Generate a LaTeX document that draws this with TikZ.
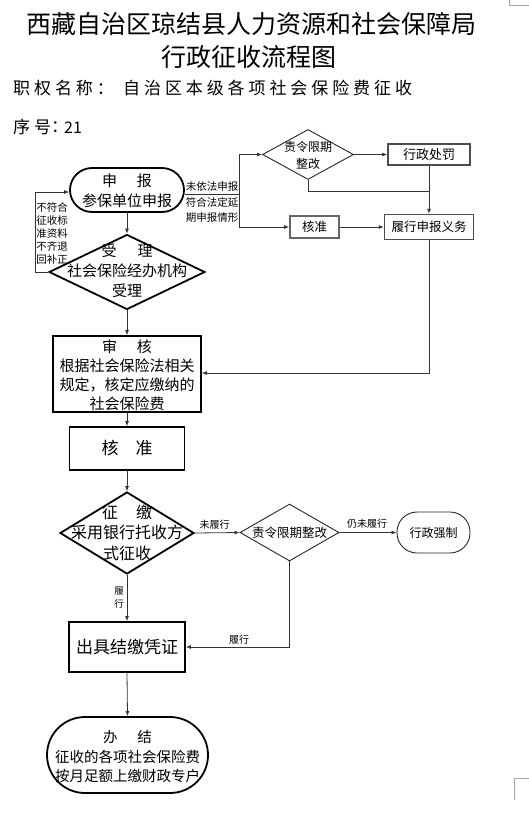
\documentclass[tikz,border=0pt]{standalone}
\usepackage{fontspec}
\setmainfont{Noto Sans CJK SC}
\newfontfamily\cjkwide[LetterSpace=23]{Noto Sans CJK SC}
\usetikzlibrary{shapes.geometric,arrows.meta}
\tikzset{
  thickbox/.style={draw=black, line width=1.8pt, inner sep=0pt},
  thinbox/.style={draw=black!85, line width=0.9pt, inner sep=0pt},
  greybox/.style={draw=black!70, line width=1.5pt, inner sep=0pt},
  txt/.style={inner sep=0pt, align=center},
  conn/.style={draw=black!80, line width=0.8pt},
  arr/.style={conn, -{Latex[length=5pt,width=4pt]}},
  lbl/.style={inner sep=0pt, align=center, font=\fontsize{10.5}{15.5}\selectfont},
  corner/.style={draw=black!35, line width=0.6pt},
}
\begin{document}
\begin{tikzpicture}[x=1pt,y=-1pt]
\useasboundingbox (0,0) rectangle (529,835);

% titles
\node[txt, font=\fontsize{25}{30}\selectfont] (title1) at (251,23.5) {西藏自治区琼结县人力资源和社会保障局};
\node[txt, font=\fontsize{25}{30}\selectfont] (title2) at (249,57) {行政征收流程图};
\node[txt, anchor=west, font=\fontsize{17}{20}\cjkwide] (zq1) at (13,88) {职权名称：};
\node[txt, anchor=west, font=\fontsize{17}{20}\cjkwide] (zq2) at (123,88) {自治区本级各项社会保险费征收};
\node[txt, anchor=west, font=\fontsize{17}{20}\cjkwide] (xh) at (13,127.5) {序号};
\node[txt, anchor=west, font=\fontsize{17}{20}\selectfont] (xhc) at (51,127.5) {：};
\node[txt, anchor=west, font=\fontsize{16}{20}\selectfont] (xhn) at (64,127.5) {21};

% main column
\node[thickbox, rounded corners=22pt, minimum width=114pt, minimum height=44pt] (shenbao) at (127,190) {};
\node[txt, font=\fontsize{15}{20}\selectfont] (shenbaot) at (127,191) {申\hspace{20pt}报\\参保单位申报};

\node[thickbox, diamond, minimum width=156pt, minimum height=75pt] (shouli) at (127,272) {};
\node[txt, font=\fontsize{15}{20}\selectfont] (shoulit) at (127,271) {受\hspace{21pt}理\\社会保险经办机构\\受理};

\node[thickbox, minimum width=148pt, minimum height=76pt] (shenhe) at (127,374) {};
\node[txt, font=\fontsize{15}{19}\selectfont] (shenhet) at (127,375.5) {审\hspace{20pt}核\\根据社会保险法相关\\规定，核定应缴纳的\\社会保险费};

\node[thickbox, minimum width=115pt, minimum height=43pt] (hezhun2) at (127,448.5) {};
\node[txt, font=\fontsize{17}{20}\selectfont] (hezhun2t) at (127,448.5) {核\hspace{17pt}准};

\node[thickbox, diamond, minimum width=134pt, minimum height=82pt] (zhengjiao) at (127,533) {};
\node[txt, font=\fontsize{16}{20.5}\selectfont] (zhengjiaot) at (127,532.5) {征\hspace{18pt}缴\\采用银行托收方\\式征收};

\node[thickbox, minimum width=116pt, minimum height=50pt] (chuju) at (127,647) {};
\node[txt, font=\fontsize{17}{20}\selectfont] (chujut) at (127,647) {出具结缴凭证};

\node[thickbox, rounded corners=38pt, minimum width=161pt, minimum height=76pt] (banjie) at (127.5,755) {};
\node[txt, font=\fontsize{14.5}{19.5}\selectfont] (banjiet) at (127.5,757) {办\hspace{20pt}结\\征收的各项社会保险费\\按月足额上缴财政专户};

% right upper branch
\node[thinbox, diamond, minimum width=91pt, minimum height=50pt] (zeling1) at (308,154.5) {};
\node[txt, font=\fontsize{12}{17}\selectfont] (zeling1t) at (308,155) {责令限期\\整改};
\node[greybox, minimum width=82pt, minimum height=21pt] (chufa) at (429,154.5) {};
\node[txt, font=\fontsize{13}{15}\selectfont] (chufat) at (429,154.5) {行政处罚};
\node[greybox, draw=black!60, line width=1.8pt, minimum width=49pt, minimum height=22pt] (hezhun1) at (314.5,227) {};
\node[txt, font=\fontsize{12.5}{15}\selectfont] (hezhun1t) at (314.5,227) {核准};
\node[greybox, minimum width=89pt, minimum height=25pt] (lvxing) at (429,227) {};
\node[txt, font=\fontsize{12.5}{15}\selectfont] (lvxingt) at (429,227) {履行申报义务};

% right lower branch
\node[thinbox, diamond, minimum width=99pt, minimum height=57pt] (zeling2) at (289.5,532.5) {};
\node[txt, font=\fontsize{12.5}{15}\selectfont] (zeling2t) at (289.5,533) {责令限期整改};
\node[thinbox, rounded corners=20pt, minimum width=73pt, minimum height=41pt] (qiangzhi) at (433.5,532.5) {};
\node[txt, font=\fontsize{12}{15}\selectfont] (qiangzhit) at (433.5,532.5) {行政强制};

% coordinates
\coordinate (lp1) at (35,272);
\coordinate (lp2) at (35,192);
\coordinate (rb) at (239,194);
\coordinate (rt) at (239,154.5);
\coordinate (rbot) at (239,227);
\coordinate (zb) at (308,191);
\coordinate (back) at (429,373);
\coordinate (zb2) at (289.5,647);

% connectors
\draw[arr] (shenbao.south) -- (shouli.north);
\draw[arr] (shouli.west) -- (lp1) -- (lp2) -- (lp2 -| shenbao.west);
\draw[conn] (shenbao.east |- rb) -- (rb);
\draw[conn] (rt) -- (rbot);
\draw[arr] (rt) -- (zeling1.west);
\draw[arr] (rbot) -- (hezhun1.west);
\draw[arr] (zeling1.east) -- (chufa.west);
\draw[arr] (chufa.south) -- (lvxing.north);
\draw[conn] (zeling1.south) -- (zb) -- (zb -| chufa.south);
\draw[arr] (hezhun1.east) -- (lvxing.west);
\draw[arr] (lvxing.south) -- (back) -- (back -| shenhe.east);
\draw[arr] (shouli.south) -- (shenhe.north);
\draw[arr] (shenhe.south) -- (hezhun2.north);
\draw[arr] (hezhun2.south) -- (zhengjiao.north);
\draw[arr] (zhengjiao.east) -- (zeling2.west);
\draw[arr] (zeling2.east) -- (qiangzhi.west);
\draw[arr] (zhengjiao.south) -- (chuju.north);
\draw[arr] (zeling2.south) -- (zb2) -- (zb2 -| chuju.east);
\draw[arr] (chuju.south) -- (banjie.north);

% labels
\node[lbl, font=\fontsize{10.5}{13}\selectfont] (lblleft) at (52,233) {不符合\\征收标\\准资料\\不齐退\\回补正};
\node[lbl] (lblright) at (212,202.5) {未依法申报\\符合法定延\\期申报情形};
\node[lbl, font=\fontsize{10}{12}\selectfont] (lblw1) at (214.5,525) {未履行};
\node[lbl, font=\fontsize{10}{12}\selectfont] (lblw2) at (367,524) {仍未履行};
\node[lbl, font=\fontsize{9.5}{13}\selectfont] (lbllv1) at (119,597.5) {履\\行};
\node[lbl, font=\fontsize{10}{12}\selectfont] (lbllv2) at (239,640) {履行};

% page corner marks
\draw[corner] (509,0) -- (509,5) -- (529,5);
\draw[corner] (514,800) -- (514,778) -- (529,778);
\end{tikzpicture}
\end{document}
